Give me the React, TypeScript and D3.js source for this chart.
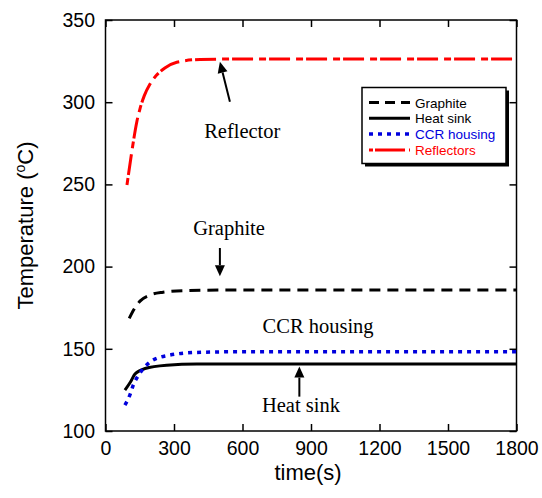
import { useEffect, useRef } from 'react';
import * as d3 from 'd3';

// series: [time (s), temperature (°C)]
const REFLECTOR: [number, number][] = [
  [94, 249.6], [110, 265], [122, 276], [137, 288], [151, 296], [170, 304],
  [195, 311], [224, 316.5], [260, 320.8], [312, 324.3], [414, 326], [600, 326.3], [1800, 326.3],
];
const GRAPHITE: [number, number][] = [
  [104, 168.5], [125, 174], [151, 179], [195, 182.7], [252, 184.4], [350, 185.4], [600, 185.8], [1800, 185.8],
];
const HEAT_SINK: [number, number][] = [
  [85, 124.9], [110, 130], [129, 134.6], [173, 138], [268, 140], [400, 140.7], [1800, 140.7],
];
const CCR: [number, number][] = [
  [85, 115.8], [107, 122], [122, 128], [145, 134], [166, 138], [202, 142.6], [283, 146.2],
  [400, 147.8], [600, 148.2], [1800, 148.2],
];

const X_TICKS = [0, 300, 600, 900, 1200, 1500, 1800];
const Y_TICKS = [100, 150, 200, 250, 300, 350];

const SERIES = [
  { name: 'Graphite', data: GRAPHITE, color: '#000000', dash: '11,7', legendDash: '10,6', width: 3 },
  { name: 'Heat sink', data: HEAT_SINK, color: '#000000', dash: null, legendDash: null, width: 3 },
  { name: 'CCR housing', data: CCR, color: '#0000dd', dash: '4,5', legendDash: '4,5', width: 3.5 },
  { name: 'Reflectors', data: REFLECTOR, color: '#ff0000', dash: '7,3,21,6', legendDash: '4,2,30', width: 3 },
];

// annotation labels and arrows in data space
const LABELS = [
  { text: 'Reflector', t: 599, v: 278.2 },
  { text: 'Graphite', t: 541, v: 219.2 },
  { text: 'CCR housing', t: 931, v: 159.6 },
  { text: 'Heat sink', t: 856, v: 111.7 },
];
const ARROWS = [
  { from: [545, 300.3], to: [501, 324.6] },
  { from: [501, 211.3], to: [501, 194.2] },
  { from: [849, 120.9], to: [849, 139.2] },
];

export default function App() {
  const svgRef = useRef<SVGSVGElement>(null);

  useEffect(() => {
    const el = svgRef.current;
    if (!el) return;
    const svg = d3.select(el);
    svg.selectAll('*').remove();

    const W = 542, H = 498;
    const margin = { top: 20, right: 25.5, bottom: 67, left: 105.5 };
    const iW = W - margin.left - margin.right;
    const iH = H - margin.top - margin.bottom;
    const g = svg.append('g').attr('transform', `translate(${margin.left},${margin.top})`);

    const x = d3.scaleLinear().domain([0, 1800]).range([0, iW]);
    const y = d3.scaleLinear().domain([100, 350]).range([iH, 0]);
    const sans = "'Liberation Sans', Arial, sans-serif";
    const serif = "'Liberation Serif', 'Times New Roman', serif";
    const fmt = d3.format('d');

    // frame
    g.append('rect').attr('width', iW).attr('height', iH)
      .attr('fill', 'none').attr('stroke', '#000').attr('stroke-width', 1.5);

    const bottom = g.append('g').attr('transform', `translate(0,${iH})`)
      .call(d3.axisBottom(x).tickValues(X_TICKS).tickFormat(fmt).tickSizeInner(-7).tickSizeOuter(0).tickPadding(10.5));
    const left = g.append('g')
      .call(d3.axisLeft(y).tickValues(Y_TICKS).tickFormat(fmt).tickSizeInner(-7).tickSizeOuter(0).tickPadding(10.5));
    const top = g.append('g')
      .call(d3.axisTop(x).tickValues(X_TICKS).tickSizeInner(-7).tickSizeOuter(0).tickFormat(() => ''));
    const right = g.append('g').attr('transform', `translate(${iW},0)`)
      .call(d3.axisRight(y).tickValues(Y_TICKS).tickSizeInner(-7).tickSizeOuter(0).tickFormat(() => ''));
    [bottom, left, top, right].forEach((a) => {
      a.select('.domain').remove();
      a.selectAll('line').attr('stroke', '#000').attr('stroke-width', 1.5);
      a.selectAll('text').attr('fill', '#000').attr('font-size', '19.5px').attr('font-family', sans);
    });

    // curves
    const line = d3.line<[number, number]>()
      .x((d) => x(d[0])).y((d) => y(d[1]))
      .curve(d3.curveMonotoneX);
    SERIES.forEach((s) => {
      g.append('path').datum(s.data)
        .attr('d', line)
        .attr('fill', 'none')
        .attr('stroke', s.color)
        .attr('stroke-width', s.width)
        .attr('stroke-dasharray', s.dash ?? null);
    });

    // annotations
    LABELS.forEach((l) => {
      g.append('text').attr('x', x(l.t)).attr('y', y(l.v))
        .attr('text-anchor', 'middle').attr('font-size', '20.5px').attr('font-family', serif)
        .attr('fill', '#000').text(l.text);
    });
    ARROWS.forEach((a) => {
      const x1 = x(a.from[0]), y1 = y(a.from[1]);
      const x2 = x(a.to[0]), y2 = y(a.to[1]);
      const ang = Math.atan2(y2 - y1, x2 - x1);
      const hl = 11, hw = 5;
      const bx = x2 - hl * Math.cos(ang), by = y2 - hl * Math.sin(ang);
      g.append('line').attr('x1', x1).attr('y1', y1).attr('x2', bx).attr('y2', by)
        .attr('stroke', '#000').attr('stroke-width', 2);
      const px = -Math.sin(ang) * hw, py = Math.cos(ang) * hw;
      g.append('path')
        .attr('d', `M${x2},${y2}L${bx + px},${by + py}L${bx - px},${by - py}Z`)
        .attr('fill', '#000');
    });

    // legend
    const lg = svg.append('g').attr('transform', 'translate(362,87.5)');
    const lw = 144, lh = 76;
    lg.append('rect').attr('x', 3).attr('y', 3).attr('width', lw).attr('height', lh).attr('fill', '#000');
    lg.append('rect').attr('width', lw).attr('height', lh)
      .attr('fill', '#fff').attr('stroke', '#000').attr('stroke-width', 1.5);
    SERIES.forEach((s, i) => {
      const yy = 15 + i * 15.8;
      lg.append('line').attr('x1', 7).attr('x2', 48).attr('y1', yy).attr('y2', yy)
        .attr('stroke', s.color).attr('stroke-width', s.width)
        .attr('stroke-dasharray', s.legendDash ?? null);
      lg.append('text').attr('x', 53).attr('y', yy + 5)
        .attr('font-size', '13.5px').attr('font-family', sans)
        .attr('fill', s.color).text(s.name);
    });

    // axis titles
    svg.append('text').attr('x', margin.left + iW / 2 - 3).attr('y', 480)
      .attr('text-anchor', 'middle').attr('font-size', '22px').attr('font-family', sans)
      .text('time(s)');
    const yl = svg.append('text')
      .attr('transform', `translate(33,${margin.top + iH / 2}) rotate(-90)`)
      .attr('text-anchor', 'middle').attr('font-size', '22px').attr('font-family', sans);
    yl.append('tspan').text('Temperature (');
    yl.append('tspan').attr('font-size', '14px').attr('dy', -8).text('o');
    yl.append('tspan').attr('dy', 8).text('C)');
  }, []);

  return (
    <svg
      ref={svgRef}
      width={542}
      height={498}
      style={{ position: 'absolute', left: 0, top: 0, background: '#fff' }}
    />
  );
}
